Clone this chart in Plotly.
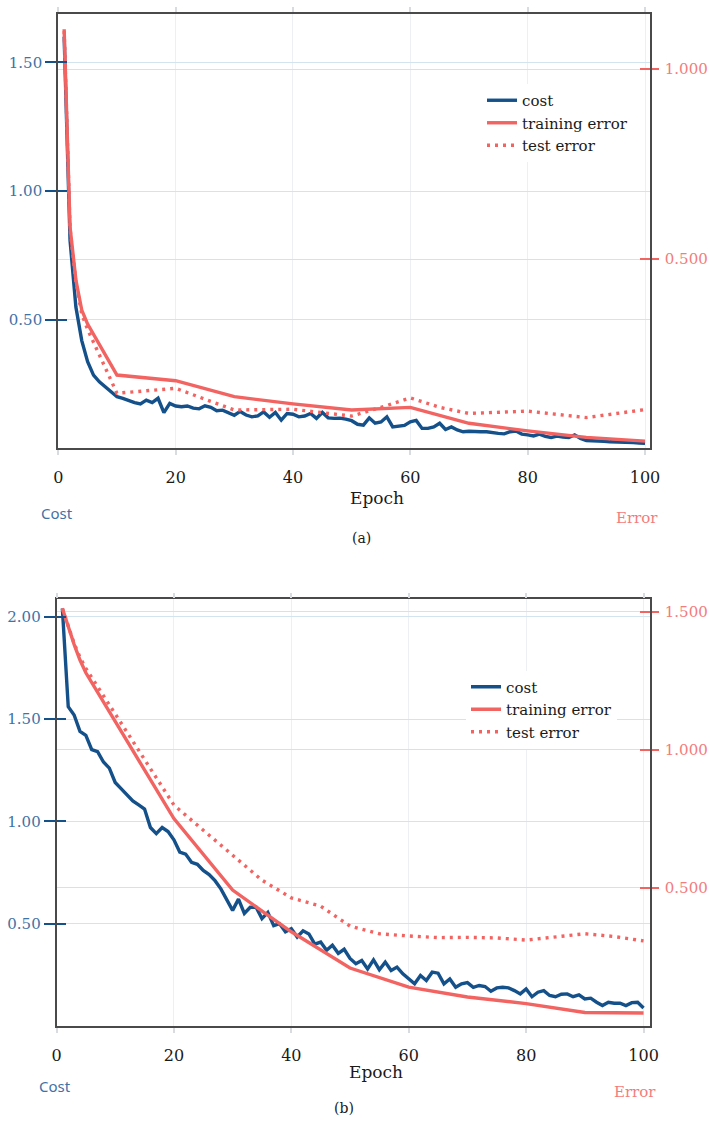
import plotly.graph_objects as go

W, H = 710, 1122

# ---------------- panel (a) ----------------
epochs = list(range(1, 101))

cost_a = [
    1.60, 0.81, 0.55, 0.42, 0.338, 0.286, 0.260, 0.241, 0.218, 0.202,
    0.196, 0.187, 0.179, 0.174, 0.189, 0.179, 0.196, 0.140, 0.176, 0.166,
    0.163, 0.166, 0.158, 0.155, 0.167, 0.161, 0.148, 0.150, 0.140, 0.130,
    0.145, 0.131, 0.124, 0.128, 0.143, 0.122, 0.141, 0.111, 0.137, 0.134,
    0.124, 0.127, 0.137, 0.118, 0.141, 0.120, 0.118, 0.119, 0.115, 0.109,
    0.095, 0.092, 0.120, 0.099, 0.104, 0.124, 0.085, 0.088, 0.091, 0.105,
    0.110, 0.079, 0.079, 0.085, 0.099, 0.075, 0.085, 0.073, 0.066, 0.068,
    0.066, 0.066, 0.066, 0.062, 0.060, 0.058, 0.066, 0.069, 0.057, 0.054,
    0.050, 0.057, 0.048, 0.044, 0.049, 0.045, 0.044, 0.054, 0.040, 0.032,
    0.032, 0.032, 0.029, 0.027, 0.027, 0.025, 0.024, 0.024, 0.022, 0.021,
]

train_ep_a = [1, 2, 3, 4, 5, 10, 20, 30, 40, 50, 60, 70, 80, 90, 100]
train_err_a = [1.105, 0.585, 0.445, 0.366, 0.329, 0.195, 0.180, 0.138, 0.119,
               0.103, 0.110, 0.068, 0.048, 0.031, 0.021]

test_ep_a = [1, 2, 3, 4, 5, 10, 20, 30, 40, 50, 55, 60, 65, 70, 80, 90, 100]
test_err_a = [1.100, 0.580, 0.440, 0.355, 0.315, 0.147, 0.160, 0.103, 0.105,
              0.087, 0.110, 0.135, 0.110, 0.094, 0.100, 0.083, 0.104]

# ---------------- panel (b) ----------------
cost_b = [
    2.04, 1.56, 1.52, 1.44, 1.42, 1.35, 1.34, 1.29, 1.26, 1.19,
    1.16, 1.13, 1.10, 1.08, 1.06, 0.97, 0.94, 0.97, 0.95, 0.91,
    0.85, 0.84, 0.80, 0.79, 0.76, 0.74, 0.71, 0.67, 0.62, 0.565,
    0.62, 0.55, 0.58, 0.58, 0.525, 0.555, 0.49, 0.50, 0.46, 0.475,
    0.435, 0.465, 0.45, 0.40, 0.41, 0.37, 0.395, 0.355, 0.375, 0.33,
    0.304, 0.320, 0.279, 0.323, 0.275, 0.312, 0.271, 0.288, 0.255, 0.230,
    0.206, 0.247, 0.222, 0.263, 0.258, 0.206, 0.230, 0.189, 0.206, 0.212,
    0.189, 0.198, 0.193, 0.170, 0.186, 0.189, 0.186, 0.173, 0.157, 0.181,
    0.143, 0.165, 0.173, 0.149, 0.143, 0.155, 0.157, 0.143, 0.152, 0.132,
    0.136, 0.116, 0.100, 0.116, 0.111, 0.111, 0.100, 0.114, 0.116, 0.088,
]

train_ep_b = [1, 2, 3, 4, 5, 10, 20, 30, 40, 50, 60, 70, 80, 90, 100]
train_err_b = [1.512, 1.446, 1.382, 1.325, 1.279, 1.103, 0.751, 0.492, 0.341,
               0.210, 0.141, 0.105, 0.081, 0.049, 0.047]

test_ep_b = [1, 2, 3, 4, 5, 10, 15, 20, 25, 30, 35, 40, 45, 50, 55, 60, 65,
             70, 75, 80, 85, 90, 95, 100]
test_err_b = [1.512, 1.446, 1.385, 1.335, 1.295, 1.130, 0.965, 0.800, 0.709,
              0.618, 0.528, 0.464, 0.434, 0.362, 0.334, 0.326, 0.320, 0.321,
              0.319, 0.311, 0.321, 0.334, 0.324, 0.308]

# axis ticks
cost_ticks_a = [0.5, 1.0, 1.5]
err_ticks_a = [0.5, 1.0]
cost_ticks_b = [0.5, 1.0, 1.5, 2.0]
err_ticks_b = [0.5, 1.0, 1.5]
epoch_ticks = [0, 20, 40, 60, 80, 100]

BLUE = "#14508a"
RED = "#f26462"
BLUE_TXT = "#3f72a6"
RED_TXT = "#f37c7c"
GRID_BLUE = "#d4e4ef"
GRID_RED = "#fcd2d2"
GRID_X = "#eceff3"
FRAME = "#4a4a4a"
SERIF = "DejaVu Serif"
SANS = "Noto Sans"


def px_x(px):
    return px / W


def px_y(py):
    return 1 - py / H


fig = go.Figure()


def add_panel(cost, tr_ep, tr_err, te_ep, te_err, xa, ya, ya2, legend):
    fig.add_trace(go.Scatter(x=epochs, y=cost, mode="lines", name="cost",
                             line=dict(color=BLUE, width=3.4),
                             xaxis=xa, yaxis=ya, legend=legend))
    fig.add_trace(go.Scatter(x=tr_ep, y=tr_err, mode="lines",
                             name="training error",
                             line=dict(color=RED, width=3.4),
                             xaxis=xa, yaxis=ya2, legend=legend))
    fig.add_trace(go.Scatter(x=te_ep, y=te_err, mode="lines",
                             name="test error",
                             line=dict(color=RED, width=3.4, dash="3px,5px"),
                             xaxis=xa, yaxis=ya2, legend=legend))


add_panel(cost_a, train_ep_a, train_err_a, test_ep_a, test_err_a,
          "x", "y", "y2", "legend")
add_panel(cost_b, train_ep_b, train_err_b, test_ep_b, test_err_b,
          "x2", "y3", "y4", "legend2")


def x_axis(domain, rng, anchor):
    return dict(domain=domain, range=rng, anchor=anchor, automargin=False,
                tickvals=epoch_ticks, ticks="outside", ticklen=5,
                tickcolor="#d8dbe0", tickwidth=1.5,
                showline=True, linecolor=FRAME, linewidth=1.6, mirror="ticks",
                showgrid=True, gridcolor=GRID_X, gridwidth=1.2,
                zeroline=False, ticklabelstandoff=9,
                tickfont=dict(family=SERIF, size=16, color="#1a1a1a"))


def y_left(domain, rng, anchor, vals, fmt):
    return dict(domain=domain, range=rng, anchor=anchor, side="left",
                automargin=False,
                tickvals=vals, ticktext=[fmt.format(v) for v in vals],
                ticks="outside", ticklen=11, tickcolor=BLUE, tickwidth=1.6,
                showline=True, linecolor=FRAME, linewidth=1.6,
                showgrid=True, gridcolor=GRID_BLUE, gridwidth=1.2,
                zeroline=False,
                tickfont=dict(family=SERIF, size=15, color=BLUE_TXT))


def y_right(rng, anchor, over, vals, fmt):
    return dict(range=rng, anchor=anchor, side="right", overlaying=over,
                automargin=False,
                tickvals=vals, ticktext=[fmt.format(v) for v in vals],
                ticks="outside", ticklen=7, tickcolor=RED, tickwidth=1.6,
                showline=True, linecolor=FRAME, linewidth=1.6,
                showgrid=True, gridcolor=GRID_RED, gridwidth=1.2,
                zeroline=False, ticklabelstandoff=3,
                tickfont=dict(family=SERIF, size=15, color=RED_TXT))


def y_inner(rng, anchor, over, side, vals, color, length):
    return dict(range=rng, anchor=anchor, side=side, overlaying=over,
                automargin=False,
                tickvals=vals, ticks="inside", ticklen=length,
                tickcolor=color, tickwidth=1.6, showticklabels=False,
                showline=False, showgrid=False, zeroline=False)


dom_xa = [px_x(58), px_x(650)]
dom_ya = [px_y(448), px_y(14)]
dom_xb = [px_x(56.5), px_x(650)]
dom_yb = [px_y(1026), px_y(599.3)]

rng_cost_a = [0.003, 1.688]
rng_err_a = [0.003, 1.145]
rng_cost_b = [0.0, 2.085]
rng_err_b = [0.0, 1.545]

fig.update_layout(
    width=W, height=H,
    margin=dict(l=0, r=0, t=0, b=0, autoexpand=False),
    paper_bgcolor="white", plot_bgcolor="white",
    showlegend=True,
    xaxis=x_axis(dom_xa, [-0.05, 100.85], "y"),
    yaxis=y_left(dom_ya, rng_cost_a, "x", cost_ticks_a, "{:.2f}"),
    yaxis2=y_right(rng_err_a, "x", "y", err_ticks_a, "{:.3f}"),
    yaxis5=y_inner(rng_cost_a, "x", "y", "left", cost_ticks_a, BLUE, 9),
    yaxis6=y_inner(rng_err_a, "x", "y", "right", err_ticks_a, RED, 10),
    xaxis2=x_axis(dom_xb, [0.0, 101.1], "y3"),
    yaxis3=y_left(dom_yb, rng_cost_b, "x2", cost_ticks_b, "{:.2f}"),
    yaxis4=y_right(rng_err_b, "x2", "y3", err_ticks_b, "{:.3f}"),
    yaxis7=y_inner(rng_cost_b, "x2", "y3", "left", cost_ticks_b, BLUE, 9),
    yaxis8=y_inner(rng_err_b, "x2", "y3", "right", err_ticks_b, RED, 10),
    legend=dict(x=px_x(482), y=px_y(84), xanchor="left", yanchor="top",
                bgcolor="white", borderwidth=0, tracegroupgap=0,
                font=dict(family=SERIF, size=15, color="#1a1a1a")),
    legend2=dict(x=px_x(466), y=px_y(670.5), xanchor="left", yanchor="top",
                 bgcolor="white", borderwidth=0, tracegroupgap=0,
                 font=dict(family=SERIF, size=15, color="#1a1a1a")),
)

# empty traces so that the inner-tick axes are rendered
for ya, xa in (("y5", "x"), ("y6", "x"), ("y7", "x2"), ("y8", "x2")):
    fig.add_trace(go.Scatter(x=[None], y=[None], xaxis=xa, yaxis=ya,
                             showlegend=False, hoverinfo="skip"))

labels = [
    ("Epoch", 377.5, 498, 17, "#1a1a1a", SERIF),
    ("Cost", 57, 513, 15, BLUE_TXT, SANS),
    ("Error", 637, 518, 15, RED_TXT, SERIF),
    ("(a)", 361, 538, 14, "#1a1a1a", SERIF),
    ("Epoch", 376, 1072, 17, "#1a1a1a", SERIF),
    ("Cost", 55, 1086, 15, BLUE_TXT, SANS),
    ("Error", 635, 1092, 15, RED_TXT, SERIF),
    ("(b)", 344, 1108, 14, "#1a1a1a", SERIF),
]
for text, cx, cy, size, color, family in labels:
    fig.add_annotation(text=text, x=px_x(cx), y=px_y(cy), xref="paper",
                       yref="paper", showarrow=False, xanchor="center",
                       yanchor="middle",
                       font=dict(family=family, size=size, color=color))

fig.write_html("out.html")
